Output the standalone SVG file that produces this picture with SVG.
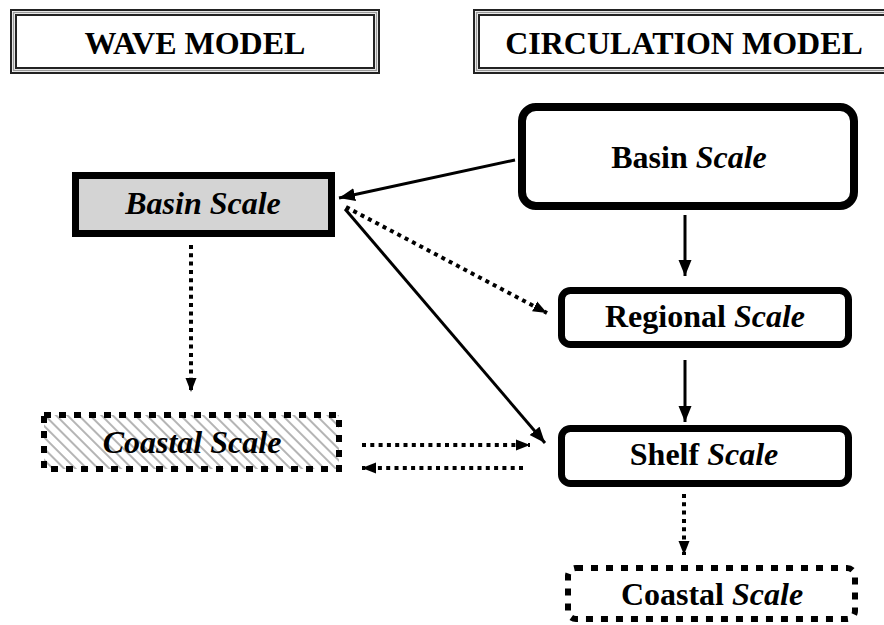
<svg xmlns="http://www.w3.org/2000/svg" width="884" height="625" viewBox="0 0 884 625">
<defs>
<style>
.t{font-family:'Liberation Serif','DejaVu Serif',serif;font-weight:bold;font-size:32px;fill:#000;text-anchor:middle}
.i{font-style:italic}
.solid{stroke:#000;stroke-width:3;fill:none}
.dot{stroke:#000;stroke-width:4;stroke-dasharray:4 4.3;fill:none}
.nb{stroke:#000;fill:#fff}
</style>
<pattern id="hatch" width="8" height="8" patternUnits="userSpaceOnUse" patternTransform="rotate(-45)">
<rect width="8" height="8" fill="#fff"/>
<line x1="2" y1="0" x2="2" y2="8" stroke="#b5b5b5" stroke-width="2"/>
</pattern>
<marker id="ah" markerUnits="userSpaceOnUse" markerWidth="18" markerHeight="14" refX="16" refY="7" orient="auto">
<path d="M0,0.5 L16,7 L0,13.5 Z" fill="#000"/>
</marker>
<marker id="ahd" markerUnits="userSpaceOnUse" markerWidth="16" markerHeight="12" refX="14" refY="6" orient="auto">
<path d="M0,0.5 L14,6 L0,11.5 Z" fill="#000"/>
</marker>
</defs>

<g id="wave-model-header">
<rect x="11" y="10" width="368" height="63" fill="#fff" stroke="#222" stroke-width="2"/>
<rect x="13.5" y="12.5" width="363" height="58" fill="none" stroke="#9a9a9a" stroke-width="1.5"/>
<rect x="16" y="15" width="358" height="53" fill="#fff" stroke="#222" stroke-width="2"/>
<text class="t" x="195" y="54">WAVE MODEL</text>
</g>

<g id="circulation-model-header">
<rect x="474" y="10" width="420" height="63" fill="#fff" stroke="#222" stroke-width="2"/>
<rect x="476.5" y="12.5" width="420" height="58" fill="none" stroke="#9a9a9a" stroke-width="1.5"/>
<rect x="479" y="15" width="420" height="53" fill="#fff" stroke="#222" stroke-width="2"/>
<text class="t" x="684" y="54">CIRCULATION MODEL</text>
</g>

<g id="connectors">
<line class="solid" x1="515" y1="160" x2="339" y2="198" marker-end="url(#ah)"/>
<line class="dot" x1="346" y1="207" x2="547" y2="313" marker-end="url(#ahd)"/>
<line class="solid" x1="345" y1="209" x2="545" y2="443" marker-end="url(#ah)"/>
<line class="dot" x1="191" y1="245" x2="191" y2="392" marker-end="url(#ahd)"/>
<line class="dot" x1="362" y1="445" x2="530" y2="445" marker-end="url(#ahd)"/>
<line class="dot" x1="523" y1="468" x2="362" y2="468" marker-end="url(#ahd)"/>
<line class="solid" x1="685" y1="215" x2="685" y2="276" marker-end="url(#ah)"/>
<line class="solid" x1="685" y1="360" x2="685" y2="422" marker-end="url(#ah)"/>
<line class="dot" x1="684" y1="494" x2="684" y2="555" marker-end="url(#ahd)"/>
</g>

<g id="wave-basin">
<rect x="75.5" y="175.5" width="256" height="58" fill="#d4d4d4" stroke="#000" stroke-width="7"/>
<text class="t i" x="203" y="214">Basin Scale</text>
</g>

<g id="wave-coastal">
<rect x="44" y="415" width="295" height="54" fill="url(#hatch)" stroke="#000" stroke-width="6" stroke-dasharray="7 8"/>
<text class="t i" x="192" y="453">Coastal Scale</text>
</g>

<g id="circ-basin">
<rect class="nb" x="522" y="107" width="332" height="99" rx="14" stroke-width="8"/>
<text class="t" x="689" y="168">Basin <tspan class="i">Scale</tspan></text>
</g>

<g id="circ-regional">
<rect class="nb" x="561.5" y="290.5" width="287" height="54" rx="9" stroke-width="7"/>
<text class="t" x="705" y="327">Regional <tspan class="i">Scale</tspan></text>
</g>

<g id="circ-shelf">
<rect class="nb" x="561.5" y="428.5" width="287" height="55" rx="9" stroke-width="7"/>
<text class="t" x="704" y="465">Shelf <tspan class="i">Scale</tspan></text>
</g>

<g id="circ-coastal">
<rect x="568" y="568" width="287" height="51" rx="8" fill="#fff" stroke="#000" stroke-width="6" stroke-dasharray="7 8"/>
<text class="t" x="712" y="605">Coastal <tspan class="i">Scale</tspan></text>
</g>
</svg>
